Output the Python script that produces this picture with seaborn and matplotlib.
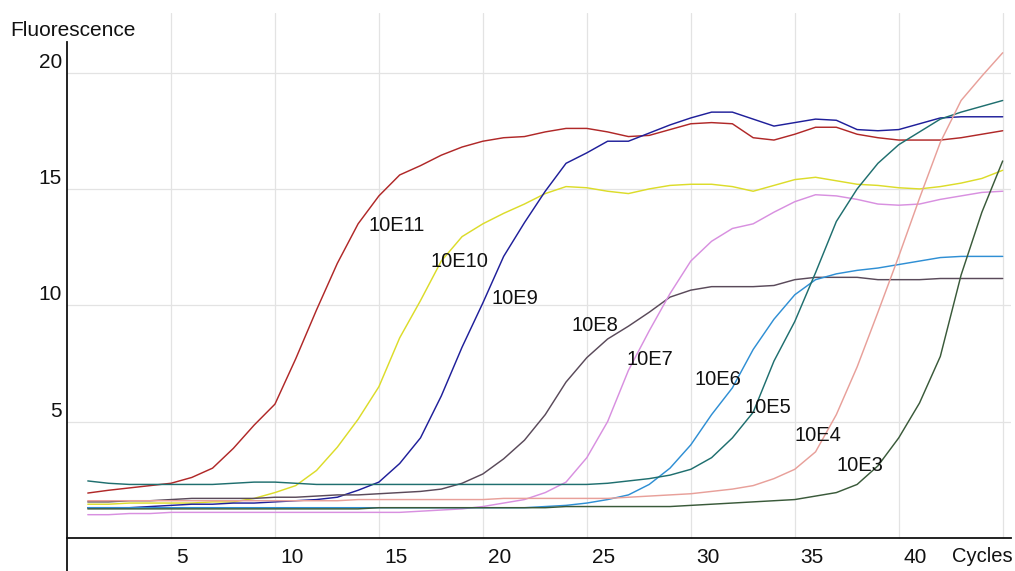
import matplotlib
matplotlib.use("Agg")
import matplotlib.pyplot as plt
import matplotlib.transforms as mtransforms
import pandas as pd
import seaborn as sns

# ---------------- data ----------------
cycles = list(range(1, 46))

e11 = [1.93, 2.05, 2.15, 2.25, 2.35, 2.6, 3.0, 3.85, 4.85, 5.75,
       7.7, 9.8, 11.8, 13.5, 14.7, 15.6, 16.0, 16.45, 16.8, 17.05,
       17.2, 17.25, 17.45, 17.6, 17.6, 17.45, 17.25, 17.3, 17.55, 17.8,
       17.85, 17.8, 17.2, 17.1, 17.35, 17.65, 17.65, 17.35, 17.2, 17.1,
       17.1, 17.1, 17.2, 17.35, 17.5]
e10 = [1.45, 1.45, 1.5, 1.5, 1.5, 1.5, 1.55, 1.55, 1.7, 1.95,
       2.25, 2.9, 3.9, 5.1, 6.5, 8.6, 10.2, 11.9, 12.95, 13.5,
       13.95, 14.35, 14.8, 15.1, 15.05, 14.9, 14.8, 15.0, 15.15, 15.2,
       15.2, 15.1, 14.9, 15.15, 15.4, 15.5, 15.35, 15.2, 15.15, 15.05,
       15.0, 15.1, 15.25, 15.45, 15.8]
e9 = [1.3, 1.3, 1.3, 1.35, 1.4, 1.45, 1.45, 1.5, 1.5, 1.55,
      1.6, 1.65, 1.75, 2.05, 2.4, 3.2, 4.3, 6.1, 8.2, 10.1,
      12.1, 13.55, 14.9, 16.1, 16.55, 17.05, 17.05, 17.4, 17.75, 18.05,
      18.3, 18.3, 18.0, 17.7, 17.85, 18.0, 17.95, 17.55, 17.5, 17.55,
      17.8, 18.05, 18.1, 18.1, 18.1]
e8 = [1.55, 1.55, 1.6, 1.6, 1.65, 1.7, 1.7, 1.7, 1.7, 1.75,
      1.75, 1.8, 1.85, 1.85, 1.9, 1.95, 2.0, 2.1, 2.35, 2.75,
      3.4, 4.2, 5.3, 6.7, 7.75, 8.55, 9.1, 9.7, 10.35, 10.65,
      10.8, 10.8, 10.8, 10.85, 11.1, 11.2, 11.2, 11.2, 11.1, 11.1,
      11.1, 11.15, 11.15, 11.15, 11.15]
e7 = [1.0, 1.0, 1.05, 1.05, 1.1, 1.1, 1.1, 1.1, 1.1, 1.1,
      1.1, 1.1, 1.1, 1.1, 1.1, 1.1, 1.15, 1.2, 1.25, 1.35,
      1.5, 1.65, 1.95, 2.4, 3.45, 5.0, 7.2, 8.9, 10.5, 11.9,
      12.75, 13.3, 13.5, 14.0, 14.45, 14.75, 14.7, 14.55, 14.35, 14.3,
      14.35, 14.55, 14.7, 14.85, 14.9]
e6 = [1.3, 1.3, 1.3, 1.3, 1.3, 1.3, 1.3, 1.3, 1.3, 1.3,
      1.3, 1.3, 1.3, 1.3, 1.3, 1.3, 1.3, 1.3, 1.3, 1.3,
      1.3, 1.3, 1.35, 1.4, 1.5, 1.65, 1.85, 2.3, 3.0, 4.0,
      5.3, 6.45, 8.1, 9.4, 10.45, 11.1, 11.35, 11.5, 11.6, 11.75,
      11.9, 12.05, 12.1, 12.1, 12.1]
e5 = [2.45, 2.35, 2.3, 2.3, 2.3, 2.3, 2.3, 2.35, 2.4, 2.4,
      2.35, 2.3, 2.3, 2.3, 2.3, 2.3, 2.3, 2.3, 2.3, 2.3,
      2.3, 2.3, 2.3, 2.3, 2.3, 2.35, 2.45, 2.55, 2.7, 2.95,
      3.45, 4.3, 5.4, 7.6, 9.3, 11.4, 13.6, 15.0, 16.1, 16.9,
      17.45, 18.0, 18.3, 18.55, 18.8]
e4 = [1.6, 1.6, 1.6, 1.6, 1.6, 1.6, 1.6, 1.6, 1.6, 1.6,
      1.6, 1.6, 1.6, 1.65, 1.65, 1.65, 1.65, 1.65, 1.65, 1.65,
      1.7, 1.7, 1.7, 1.7, 1.7, 1.7, 1.75, 1.8, 1.85, 1.9,
      2.0, 2.1, 2.25, 2.55, 2.95, 3.7, 5.3, 7.35, 9.7, 12.1,
      14.6, 17.0, 18.8, 19.85, 20.85]
e3 = [1.25, 1.25, 1.25, 1.25, 1.25, 1.25, 1.25, 1.25, 1.25, 1.25,
      1.25, 1.25, 1.25, 1.25, 1.3, 1.3, 1.3, 1.3, 1.3, 1.3,
      1.3, 1.3, 1.3, 1.35, 1.35, 1.35, 1.35, 1.35, 1.35, 1.4,
      1.45, 1.5, 1.55, 1.6, 1.65, 1.8, 1.95, 2.3, 3.1, 4.3,
      5.8, 7.8, 11.3, 14.0, 16.2]

series_names = ["10E11", "10E10", "10E9", "10E8", "10E7", "10E6", "10E5", "10E4", "10E3"]
series_values = [e11, e10, e9, e8, e7, e6, e5, e4, e3]
series_colors = ["#b02828", "#dcdc2a", "#1f1f9a", "#5a4a5a", "#d890e0",
                 "#2f8fd4", "#1f6f6f", "#e8a09a", "#3a5a3a"]

# label anchor points (cycle, fluorescence) for the curve labels
label_cycle = [14.5, 17.5, 20.4, 24.25, 26.9, 30.2, 32.6, 35.0, 37.0]
label_fluor = [13.2, 11.66, 10.06, 8.91, 7.45, 6.59, 5.38, 4.18, 2.89]

x_ticks = [5, 10, 15, 20, 25, 30, 35, 40, 45]
x_tick_labels = ["5", "10", "15", "20", "25", "30", "35", "40", ""]
y_ticks = [5, 10, 15, 20]
y_tick_labels = ["5", "10", "15", "20"]

# ---------------- long table ----------------
rows = []
for name, vals in zip(series_names, series_values):
    for c, v in zip(cycles, vals):
        rows.append({"Cycle": c, "Fluorescence": v, "Dilution": name})
df = pd.DataFrame(rows)
palette = dict(zip(series_names, series_colors))

# ---------------- figure ----------------
sns.set_style("white")
plt.rcParams["font.family"] = ["Liberation Sans", "DejaVu Sans"]
plt.rcParams["font.size"] = 15

W, H = 1015, 571
fig = plt.figure(figsize=(W / 100, H / 100), dpi=100)
ax_left, ax_right, ax_top = 67, 1011, 13
ax = fig.add_axes([ax_left / W, 0, (ax_right - ax_left) / W, (H - ax_top) / H])

x_max = 45.4
y_min, y_max = -1.42, 22.56
ax.set_xlim(0, x_max)
ax.set_ylim(y_min, y_max)

grid_col = "#e3e3e3"
for yt in y_ticks:
    ax.axhline(yt, color=grid_col, lw=0.9, zorder=0)
frac0 = (0 - y_min) / (y_max - y_min)
for xt in x_ticks:
    ax.axvline(xt, ymin=frac0, ymax=1, color=grid_col, lw=0.9, zorder=0)

sns.lineplot(data=df, x="Cycle", y="Fluorescence", hue="Dilution",
             hue_order=series_names, palette=palette, estimator=None,
             linewidth=1.05, legend=False, ax=ax, zorder=2)

for name, cx, cy in zip(series_names, label_cycle, label_fluor):
    ax.text(cx, cy, name, ha="left", va="baseline", fontsize=14.5,
            color="#111111", zorder=5)

for s in ["top", "right"]:
    ax.spines[s].set_visible(False)
ax.spines["bottom"].set_position(("data", 0))
ax.spines["left"].set_bounds(y_min, 21.33)
for s in ["left", "bottom"]:
    ax.spines[s].set_color("#111111")
    ax.spines[s].set_linewidth(1.3)

ax.set_xlabel("")
ax.set_ylabel("")
ax.set_xticks(x_ticks)
ax.set_yticks(y_ticks)
ax.tick_params(axis="x", direction="out", length=8, width=1.1, pad=-1,
               colors="#111111", labelsize=15)
ax.tick_params(axis="y", direction="out", length=9.4, width=1.1, pad=-5.8,
               colors="#111111", labelsize=15)
ax.set_xticklabels(x_tick_labels, ha="left")
ax.set_yticklabels(y_tick_labels, va="baseline")

dx = mtransforms.ScaledTranslation(5 / 100, 0, fig.dpi_scale_trans)
for lab in ax.get_xticklabels():
    lab.set_transform(lab.get_transform() + dx)
dy = mtransforms.ScaledTranslation(0, 5 / 100, fig.dpi_scale_trans)
for lab in ax.get_yticklabels():
    lab.set_transform(lab.get_transform() + dy)

fig.text(10 / W, 1 - 36 / H, "Fluorescence", ha="left", va="baseline",
         fontsize=15, color="#111111")
fig.text(952 / W, 1 - 562 / H, "Cycles", ha="left", va="baseline",
         fontsize=14.5, color="#111111")

fig.savefig("out.png", dpi=100)
